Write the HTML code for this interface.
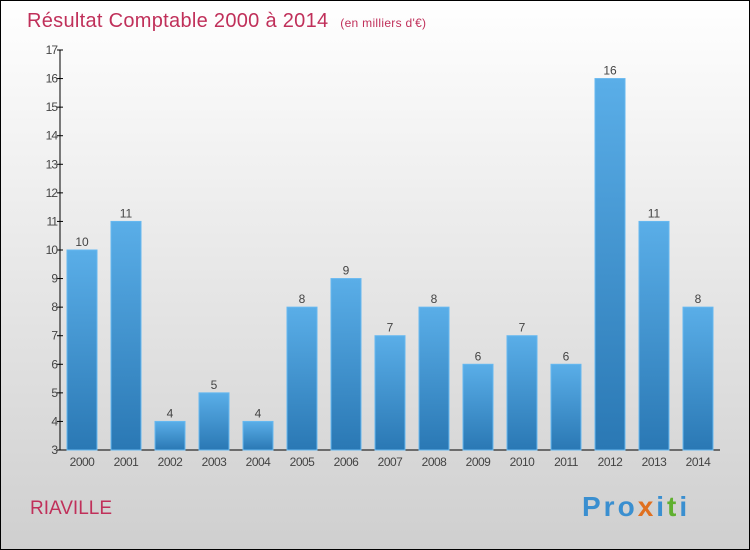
<!DOCTYPE html>
<html><head><meta charset="utf-8"><style>
body{margin:0;width:750px;height:550px;overflow:hidden}
svg{display:block;font-family:"Liberation Sans",sans-serif}
</style></head><body>
<svg id="c" width="750" height="550">
<defs>
<linearGradient id="bg" x1="0" y1="0" x2="0" y2="1"><stop offset="0" stop-color="#ffffff"/><stop offset="1" stop-color="#cfcfcf"/></linearGradient>
<linearGradient id="bar" x1="0" y1="0" x2="0" y2="1"><stop offset="0" stop-color="#5aaee8"/><stop offset="1" stop-color="#2a78b4"/></linearGradient>
</defs>
<rect x="0.5" y="0.5" width="749" height="549" fill="url(#bg)" stroke="#000"/>
<text x="27" y="27" font-size="20" fill="#c0305a" letter-spacing="0.3">Résultat Comptable 2000 à 2014 <tspan font-size="12" dx="6">(en milliers d'€)</tspan></text>
<text x="30" y="514" font-size="19" fill="#c0305a">RIAVILLE</text>
<text x="582" y="516" font-size="28" font-weight="bold" letter-spacing="3"><tspan fill="#3a8fd0">Pro</tspan><tspan fill="#e07020">x</tspan><tspan fill="#3a8fd0">i</tspan><tspan fill="#60b030">t</tspan><tspan fill="#3a8fd0">i</tspan></text>
<g id="ax"></g><g id="bars"></g>
</svg>
<script>
const categories=["2000","2001","2002","2003","2004","2005","2006","2007","2008","2009","2010","2011","2012","2013","2014"];
const values=[10,11,4,5,4,8,9,7,8,6,7,6,16,11,8];
const yTicks=[3,4,5,6,7,8,9,10,11,12,13,14,15,16,17];
const ns="http://www.w3.org/2000/svg";
const y0=450,y1=50,vmin=3,vmax=17,xl=60,band=44;
const y=v=>y0-(v-vmin)/(vmax-vmin)*(y0-y1);
const x=i=>xl+band*i+band/2;
function mk(t,a,p){const e=document.createElementNS(ns,t);for(const k in a)e.setAttribute(k,a[k]);p.appendChild(e);return e;}
const ax=document.getElementById('ax'),bg=document.getElementById('bars');
let l=mk('line',{x1:xl,y1:y1,x2:xl,y2:y0,stroke:'#000'},ax);


l=mk('line',{x1:xl,y1:y0,x2:720,y2:y0,stroke:'#000'},ax);


yTicks.forEach(v=>{
 mk('line',{x1:xl-3,x2:xl+3,y1:y(v),y2:y(v),stroke:'#000'},ax);
 const t=mk('text',{x:xl-3,y:y(v)+4,'font-size':12,fill:'#444','text-anchor':'end','letter-spacing':'-1'},ax);t.textContent=v;
 
 
});
categories.forEach((c,i)=>{
 const r=mk('rect',{x:x(i)-15,y:y(values[i]),width:30,height:y0-y(values[i]),fill:'url(#bar)',stroke:'#66b8f0','stroke-width':1},bg);
 
 
 const t=mk('text',{x:x(i),y:y(values[i])-4,'font-size':12,fill:'#444','text-anchor':'middle'},bg);t.textContent=values[i];
 
 
 const xt=mk('text',{x:x(i),y:466,'font-size':12,fill:'#444','text-anchor':'middle','letter-spacing':'-0.5'},bg);xt.textContent=c;
 
 
});
</script>
</body></html>
